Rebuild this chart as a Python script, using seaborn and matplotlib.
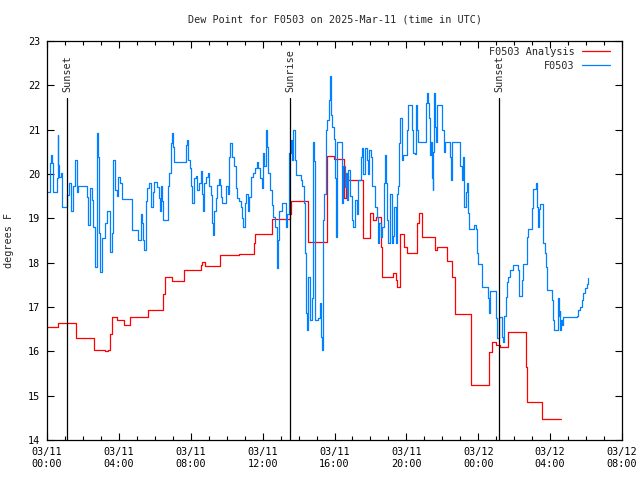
import numpy as np
import pandas as pd
import seaborn as sns
import matplotlib.pyplot as plt
from matplotlib.ticker import MultipleLocator

# hours since 2025-03-11 00:00 UTC, dew point in degrees F
analysis_hours = [0.0, 0.63, 1.61, 2.63, 3.23, 3.4, 3.5, 3.6, 3.9, 4.3, 4.62, 5.6,
                  6.45, 6.55, 6.97, 7.62, 8.55, 8.65, 8.8, 9.63, 10.68, 11.5, 11.6,
                  12.54, 13.52, 13.6, 14.54, 15.56, 15.97, 16.55, 16.64, 16.77, 17.14,
                  17.6, 17.97, 18.16, 18.3, 18.57, 18.66, 19.27, 19.4, 19.46, 19.64,
                  19.87, 20.02, 20.6, 20.68, 20.85, 21.59, 21.7, 22.24, 22.55, 22.7,
                  23.58, 24.6, 24.75, 24.99, 25.2, 25.67, 26.64, 26.69, 27.56, 28.59]
analysis_temp = [16.55, 16.63, 16.30, 16.02, 16.0, 16.04, 16.4, 16.77, 16.71, 16.59, 16.77, 16.93,
                 17.3, 17.68, 17.59, 17.83, 17.95, 18.02, 17.92, 18.17, 18.2, 18.45, 18.65,
                 18.98, 19.1, 19.38, 18.46, 20.4, 20.33, 19.45, 19.96, 19.87, 19.87,
                 18.55, 19.11, 18.96, 19.04, 18.36, 17.67, 17.76, 17.6, 17.46, 18.65,
                 18.36, 18.22, 18.89, 19.13, 18.59, 18.29, 18.35, 18.03, 17.68, 16.84,
                 15.24, 15.99, 16.2, 16.14, 16.09, 16.44, 15.65, 14.85, 14.47, 14.47]

obs_hours = [0.07, 0.17, 0.22, 0.26, 0.35, 0.54, 0.59, 0.63, 0.67, 0.76, 0.85, 1.09, 1.22,
             1.34, 1.47, 1.56, 1.65, 1.74, 2.21, 2.26, 2.39, 2.48, 2.58, 2.67, 2.76, 2.86,
             2.91, 2.97, 3.04, 3.23, 3.32, 3.52, 3.6, 3.69, 3.78, 3.88, 3.97, 4.06, 4.16,
             4.75, 5.08, 5.22, 5.3, 5.36, 5.42, 5.51, 5.58, 5.69, 5.79, 5.88, 5.97, 6.14,
             6.21, 6.29, 6.34, 6.42, 6.47, 6.71, 6.79, 6.88, 6.94, 7.0, 7.09, 7.71, 7.77,
             7.83, 7.96, 8.01, 8.09, 8.18, 8.27, 8.37, 8.46, 8.55, 8.64, 8.7, 8.75, 8.85,
             8.94, 9.0, 9.11, 9.16, 9.22, 9.29, 9.39, 9.48, 9.55, 9.63, 9.68, 9.74, 9.96,
             10.09, 10.15, 10.2, 10.28, 10.42, 10.5, 10.59, 10.7, 10.78, 10.87, 10.93,
             11.02, 11.07, 11.17, 11.24, 11.33, 11.48, 11.57, 11.67, 11.76, 11.85, 11.95,
             12.04, 12.09, 12.19, 12.26, 12.32, 12.41, 12.5, 12.6, 12.69, 12.78, 12.82,
             12.87, 12.93, 13.06, 13.3, 13.37, 13.47, 13.56, 13.65, 13.71, 13.8, 13.86,
             14.12, 14.21, 14.3, 14.36, 14.41, 14.47, 14.54, 14.64, 14.73, 14.82, 14.88,
             14.91, 15.1, 15.19, 15.25, 15.32, 15.38, 15.43, 15.51, 15.6, 15.69, 15.75,
             15.8, 15.84, 15.97, 16.03, 16.08, 16.12, 16.16, 16.4, 16.49, 16.58, 16.62,
             16.68, 16.77, 16.86, 16.95, 17.05, 17.14, 17.23, 17.33, 17.46, 17.53, 17.6,
             17.69, 17.79, 17.88, 17.94, 18.01, 18.07, 18.25, 18.35, 18.4, 18.47, 18.57,
             18.66, 18.75, 18.83, 18.87, 18.94, 19.0, 19.09, 19.18, 19.24, 19.31, 19.41,
             19.5, 19.55, 19.61, 19.67, 19.74, 19.83, 20.02, 20.11, 20.33, 20.39, 20.48,
             20.54, 20.61, 20.66, 21.09, 21.15, 21.2, 21.26, 21.31, 21.37, 21.41, 21.46,
             21.5, 21.54, 21.59, 21.65, 21.72, 22.0, 22.09, 22.15, 22.43, 22.48, 22.52,
             22.56, 22.98, 23.08, 23.13, 23.17, 23.22, 23.3, 23.35, 23.41, 23.5, 23.78,
             23.87, 23.95, 24.0, 24.22, 24.52, 24.6, 24.65, 24.97, 25.02, 25.15, 25.3,
             25.34, 25.39, 25.45, 25.52, 25.6, 25.67, 25.76, 25.95, 26.23, 26.28, 26.45,
             26.51, 26.69, 26.73, 26.79, 26.97, 27.03, 27.19, 27.23, 27.25, 27.3, 27.36,
             27.43, 27.58, 27.62, 27.71, 27.77, 27.84, 28.12, 28.18, 28.23, 28.44, 28.49,
             28.53, 28.57, 28.62, 28.68, 28.73, 29.47, 29.57, 29.66, 29.75, 29.84, 29.94,
             30.03, 30.12]
obs_temp = [19.6, 20.24, 20.43, 20.24, 19.6, 19.9, 20.88, 20.2, 19.94, 20.03, 19.26, 19.53, 19.79,
            19.16, 19.72, 20.32, 19.6, 19.72, 19.49, 18.85, 19.68, 19.41, 18.81, 17.91, 20.92, 20.39,
            18.66, 17.8, 18.55, 18.89, 19.16, 18.25, 18.66, 20.32, 19.64, 19.5, 19.94, 19.8, 19.43,
            18.74, 18.51, 19.1, 18.9, 18.51, 18.29, 19.38, 19.68, 19.79, 19.26, 19.6, 19.83, 19.7,
            19.45, 19.16, 19.72, 19.4, 18.96, 19.72, 20.02, 20.69, 20.92, 20.6, 20.28, 20.65, 20.77,
            20.32, 20.13, 19.72, 19.34, 19.9, 19.95, 19.64, 19.8, 20.06, 19.56, 19.16, 19.8, 19.94,
            20.02, 19.72, 19.53, 18.89, 18.62, 19.16, 19.45, 19.75, 19.88, 19.75, 19.49, 19.34, 19.73,
            19.56, 20.39, 20.69, 20.39, 20.17, 19.68, 19.45, 19.38, 19.26, 19.0, 18.81,
            19.34, 19.56, 19.16, 19.49, 19.94, 20.02, 20.13, 20.28, 20.13, 19.9, 19.68,
            20.47, 20.17, 20.99, 20.62, 20.02, 19.64, 19.3, 19.04, 18.81, 18.21, 17.87,
            18.5, 19.16, 19.34, 18.81, 19.1, 20.47, 20.77, 20.32, 20.99, 20.32, 19.98,
            19.87, 19.72, 19.34, 18.21, 16.86, 16.48, 17.68, 16.71, 17.2, 20.73, 20.3,
            16.71, 16.75, 17.08, 16.33, 16.03, 18.96, 19.56, 20.99, 21.22, 21.67, 22.2,
            21.33, 21.07, 20.8, 19.9, 18.59, 20.3, 20.73, 19.34, 20.17, 19.7, 20.02,
            19.41, 20.1, 19.5, 18.96, 18.81, 19.41, 19.1, 19.87, 20.39, 20.58, 20.0,
            20.58, 20.32, 20.0, 20.54, 20.39, 19.72, 19.26, 19.04, 18.44, 18.9, 18.59,
            18.8, 19.79, 20.43, 19.79, 18.96, 18.44, 19.56, 18.44, 18.6, 19.26, 18.44,
            19.56, 19.72, 20.69, 21.26, 20.32, 20.43, 20.99, 21.56, 20.99, 20.47, 20.45,
            21.56, 20.99, 20.73, 21.6, 21.82, 21.6, 21.26, 20.43, 20.73, 19.9, 19.64,
            20.5, 21.82, 21.07, 20.73, 21.56, 20.99, 20.5, 20.73, 20.39, 19.87, 20.39,
            20.73, 20.17, 19.87, 20.2, 20.39, 19.26, 19.6, 19.79, 19.11, 18.77, 18.85,
            18.77, 18.21, 17.98, 17.46, 17.2, 16.86, 17.35, 16.75, 16.29, 16.78, 16.6,
            16.33, 16.22, 16.8, 17.23, 17.57, 17.68, 17.83, 17.95, 17.83, 17.25, 17.6,
            17.98, 18.17, 18.59, 18.77, 19.23, 19.66, 19.72, 19.8, 19.26, 18.81, 19.2,
            19.32, 18.89, 18.44, 18.21, 17.91, 17.38, 17.16, 16.71, 16.48, 17.2, 16.8,
            16.9, 16.48, 16.7, 16.6, 16.77, 16.8, 16.93, 17.0, 17.16, 17.31, 17.42,
            17.53, 17.65]

tick_hours = [0, 4, 8, 12, 16, 20, 24, 28, 32]
tick_labels = ['03/11\n00:00', '03/11\n04:00', '03/11\n08:00', '03/11\n12:00',
               '03/11\n16:00', '03/11\n20:00', '03/12\n00:00', '03/12\n04:00',
               '03/12\n08:00']
sun_names = ['Sunset', 'Sunrise', 'Sunset']
sun_hours = [1.11, 13.52, 25.15]

df = pd.concat([
    pd.DataFrame({'hour': analysis_hours, 'dewpt': analysis_temp, 'series': 'F0503 Analysis'}),
    pd.DataFrame({'hour': obs_hours, 'dewpt': obs_temp, 'series': 'F0503'}),
])

fs = 7.3
sns.set_style('ticks')
plt.rcParams['font.family'] = ['DejaVu Sans Mono']
plt.rcParams['font.size'] = fs

fig = plt.figure(figsize=(6.4, 4.8), dpi=100)
ax = fig.add_axes([47 / 640, 40 / 480, 575 / 640, 399 / 480])

sns.lineplot(data=df, x='hour', y='dewpt', hue='series',
             palette={'F0503 Analysis': '#ff0000', 'F0503': '#0080ff'},
             drawstyle='steps-post', linewidth=0.9, estimator=None,
             legend=False, ax=ax)

for name, h in zip(sun_names, sun_hours):
    ax.plot([h, h], [14, 21.71], color='black', linewidth=0.9)
    ax.text(h, 21.86, name, rotation=90, ha='center', va='bottom', fontsize=fs)

ax.set_xlim(0, 32)
ax.set_ylim(14, 23)
ax.set_xticks(tick_hours)
ax.set_xticklabels(tick_labels)
ax.xaxis.set_minor_locator(MultipleLocator(1))
ax.yaxis.set_major_locator(MultipleLocator(1))
ax.tick_params(which='both', direction='in', top=True, right=True, width=0.8,
               colors='black', labelsize=fs)
ax.tick_params(which='major', length=5, pad=5)
ax.tick_params(which='minor', length=3)
for s in ax.spines.values():
    s.set_color('black')
    s.set_linewidth(0.9)

ax.set_xlabel('')
ax.set_ylabel('degrees F', fontsize=fs, labelpad=10)
ax.set_title('Dew Point for F0503 on 2025-Mar-11 (time in UTC)', fontsize=fs, pad=13)

handles = [plt.Line2D([], [], color='#ff0000', linewidth=0.9),
           plt.Line2D([], [], color='#0080ff', linewidth=0.9)]
ax.legend(handles, ['F0503 Analysis', 'F0503'], loc='upper right', frameon=False,
          bbox_to_anchor=(0.983, 0.99), markerfirst=False, fontsize=fs,
          handlelength=2.8, handletextpad=0.7, labelspacing=0.35,
          borderpad=0.2, borderaxespad=0.0)

fig.savefig('out.png', dpi=100)
